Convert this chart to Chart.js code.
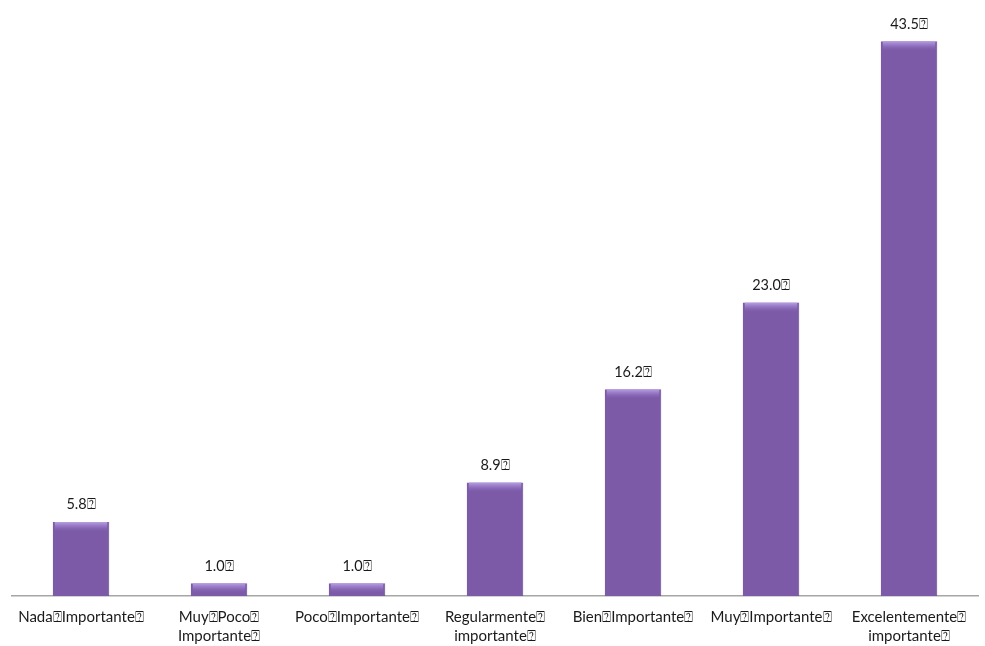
<!DOCTYPE html>
<html>
<head>
<meta charset="utf-8">
<script src="https://cdn.jsdelivr.net/npm/chart.js@4/dist/chart.umd.min.js"></script>
<style>
  html, body { margin: 0; padding: 0; background: #fff; }
  #wrap { width: 985px; height: 646px; }
</style>
</head>
<body>
<div id="wrap"><canvas id="chartjs" width="985" height="646"></canvas></div>
<script>
const Q = '\u2370'
const categories = [
  'Nada' + Q + 'Importante' + Q,
  ['Muy' + Q + 'Poco' + Q, 'Importante' + Q],
  'Poco' + Q + 'Importante' + Q,
  ['Regularmente' + Q, 'importante' + Q],
  'Bien' + Q + 'Importante' + Q,
  'Muy' + Q + 'Importante' + Q,
  ['Excelentemente' + Q, 'importante' + Q]
]
const values = [5.8, 1.0, 1.0, 8.9, 16.2, 23.0, 43.5]
const valueLabels = ['5.8', '1.0', '1.0', '8.9', '16.2', '23.0', '43.5']

const FONT = 'Lato, "Open Sans", "Liberation Sans", sans-serif'

function barFill(context) {
  const el = context.element
  const ctx = context.chart.ctx
  if (!el || el.width === undefined) return '#7c5aa8'
  const x0 = el.x - el.width / 2
  const g = ctx.createLinearGradient(x0, 0, x0 + el.width, 0)
  g.addColorStop(0, '#6a4b96')
  g.addColorStop(0.07, '#8a6bb9')
  g.addColorStop(0.45, '#7f5dad')
  g.addColorStop(0.9, '#7454a2')
  g.addColorStop(1, '#563b7e')
  return g
}

// lighter bevel at the top of every bar plus value labels
const barExtras = {
  id: 'barExtras',
  afterDatasetsDraw(chart) {
    const ctx = chart.ctx
    const meta = chart.getDatasetMeta(0)
    meta.data.forEach((bar, i) => {
      const x0 = bar.x - bar.width / 2
      const h = Math.min(10, bar.base - bar.y)
      const g = ctx.createLinearGradient(0, bar.y, 0, bar.y + h)
      g.addColorStop(0, 'rgba(185,160,225,1)')
      g.addColorStop(0.45, 'rgba(155,125,205,0.7)')
      g.addColorStop(1, 'rgba(125,92,170,0)')
      ctx.save()
      ctx.fillStyle = g
      ctx.fillRect(x0 + 2, bar.y, bar.width - 4, h)
      ctx.fillStyle = '#1a1a1a'
      ctx.font = '14.5px ' + FONT
      ctx.textAlign = 'center'
      ctx.textBaseline = 'bottom'
      ctx.fillText(valueLabels[i] + Q, bar.x, bar.y - 10)
      ctx.restore()
    })
  }
}

new Chart(document.getElementById('chartjs').getContext('2d'), {
  type: 'bar',
  data: {
    labels: categories,
    datasets: [{
      data: values,
      backgroundColor: barFill,
      borderColor: '#5e4287',
      borderWidth: { left: 0, right: 1, top: 0, bottom: 0 },
      barPercentage: 0.41,
      categoryPercentage: 1.0
    }]
  },
  options: {
    responsive: false,
    animation: false,
    layout: { padding: { left: 12, right: 7, top: 22, bottom: 0 } },
    plugins: { legend: { display: false }, tooltip: { enabled: false } },
    scales: {
      x: {
        grid: { display: false, drawTicks: false },
        border: { display: true, color: '#a6a6a6', width: 1.5 },
        ticks: {
          color: '#1a1a1a',
          font: { size: 15, family: FONT, lineHeight: 1.25 },
          padding: 12,
          maxRotation: 0,
          autoSkip: false
        },
        afterFit(scale) { scale.height = 50 }
      },
      y: {
        display: false,
        min: 0,
        max: 45
      }
    }
  },
  plugins: [barExtras]
})
</script>
</body>
</html>
